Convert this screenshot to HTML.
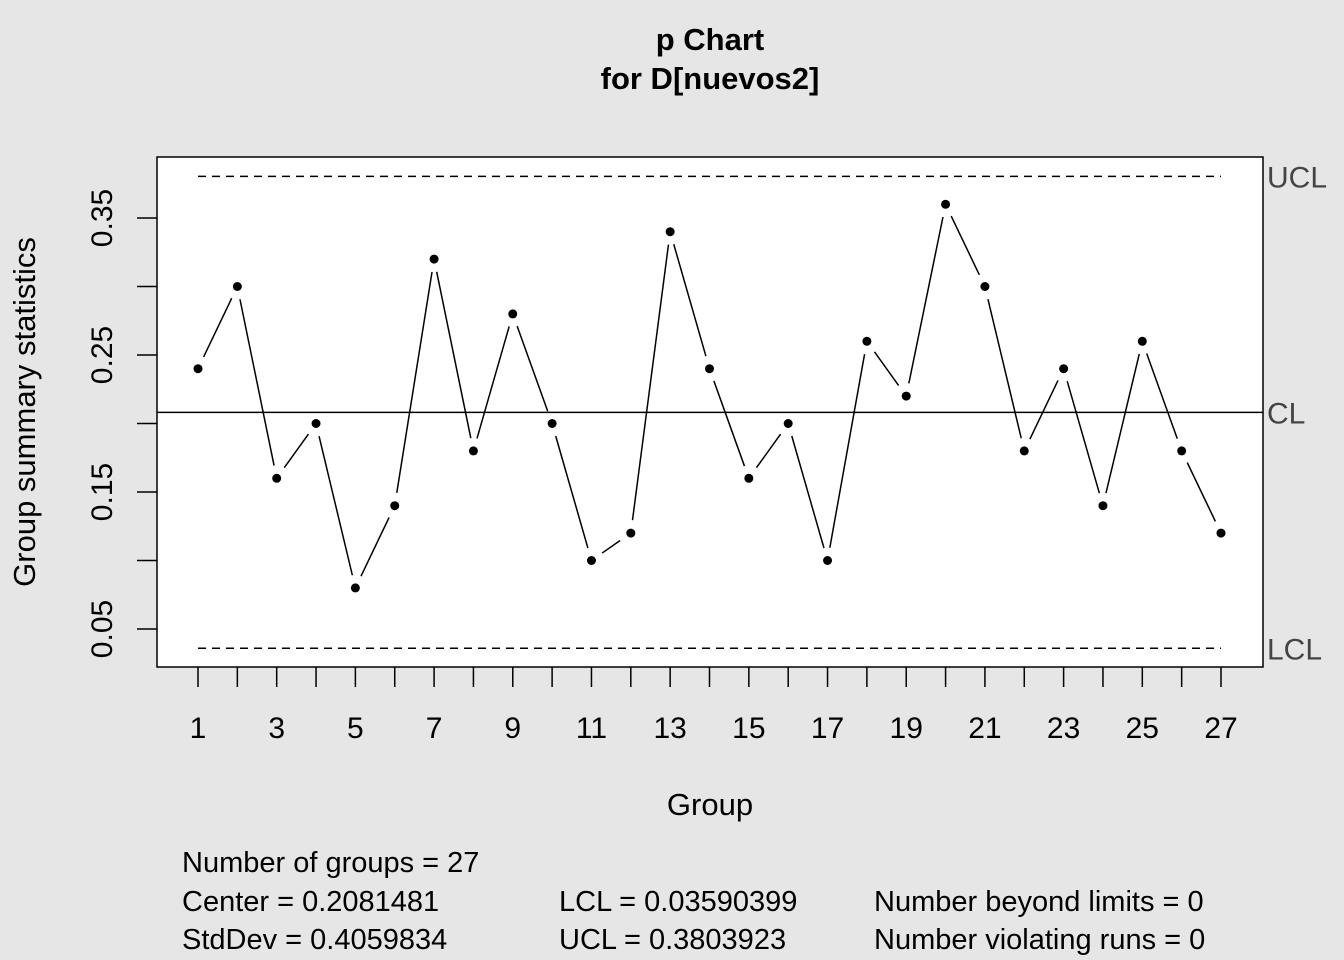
<!DOCTYPE html>
<html><head><meta charset="utf-8"><style>
body{margin:0;background:#e6e6e6;}
svg{display:block;font-family:"Liberation Sans",Arial,sans-serif;}
</style></head><body>
<svg id="chart" width="1344" height="960" viewBox="0 0 1344 960" xmlns="http://www.w3.org/2000/svg">
<rect x="0" y="0" width="1344" height="960" fill="#e6e6e6"/>
<rect x="157" y="157" width="1106" height="510" fill="#ffffff" stroke="#000" stroke-width="1.5"/>
<text x="710" y="50" font-size="31" font-weight="bold" text-anchor="middle">p Chart</text>
<text x="710" y="89" font-size="31" font-weight="bold" text-anchor="middle">for D[nuevos2]</text>
<text x="710" y="815" font-size="31" text-anchor="middle">Group</text>
<text transform="translate(35,412) rotate(-90)" font-size="31" text-anchor="middle">Group summary statistics</text>
<g id="marks"></g>
<g font-size="29">
<text x="182" y="872">Number of groups = 27</text>
<text x="182" y="911">Center = 0.2081481</text>
<text x="182" y="949">StdDev = 0.4059834</text>
<text x="559" y="911">LCL = 0.03590399</text>
<text x="559" y="949">UCL = 0.3803923</text>
<text x="874" y="911">Number beyond limits = 0</text>
<text x="874" y="949">Number violating runs = 0</text>
</g>
</svg>
<script>
const groups=[1,2,3,4,5,6,7,8,9,10,11,12,13,14,15,16,17,18,19,20,21,22,23,24,25,26,27];
const values=[0.24,0.30,0.16,0.20,0.08,0.14,0.32,0.18,0.28,0.20,0.10,0.12,0.34,0.24,0.16,0.20,0.10,0.26,0.22,0.36,0.30,0.18,0.24,0.14,0.26,0.18,0.12];
const yTicks=[0.05,0.15,0.25,0.35];
const yMinor=[0.10,0.20,0.30];
const center=0.2081481;
const ucl=0.3803923;
const lcl=0.03590399;
const NS="http://www.w3.org/2000/svg";
const g=document.getElementById('marks');
function xs(i){return 198+(i-1)*(1221-198)/26;}
function ys(v){return 629-(v-0.05)*1370;}
function mk(t,a){const e=document.createElementNS(NS,t);for(const k in a)e.setAttribute(k,a[k]);g.appendChild(e);return e;}
let l;
l=mk('line',{x1:198,x2:1221,y1:ys(ucl),y2:ys(ucl),stroke:'#000','stroke-width':1.5,'stroke-dasharray':'8,6'});


l=mk('line',{x1:198,x2:1221,y1:ys(lcl),y2:ys(lcl),stroke:'#000','stroke-width':1.5,'stroke-dasharray':'8,6'});


l=mk('line',{x1:157,x2:1263,y1:ys(center),y2:ys(center),stroke:'#000','stroke-width':1.5});


[['UCL',ucl],['CL',center],['LCL',lcl]].forEach(([t,v])=>{
 const e=mk('text',{x:1267,y:ys(v)+11,'font-size':30,fill:'#444'});e.textContent=t;
 
 
});
for(let i=0;i<values.length-1;i++){
 const x1=xs(groups[i]),y1=ys(values[i]),x2=xs(groups[i+1]),y2=ys(values[i+1]);
 const dx=x2-x1,dy=y2-y1,d=Math.hypot(dx,dy),s=13;
 if(d>2*s){
  const e=mk('line',{x1:x1+dx/d*s,y1:y1+dy/d*s,x2:x2-dx/d*s,y2:y2-dy/d*s,stroke:'#000','stroke-width':1.5});
  
  
 }
}
values.forEach((v,i)=>{
 const e=mk('circle',{cx:xs(groups[i]),cy:ys(v),r:4.5,fill:'#000'});
 
 
});
groups.forEach(gp=>{
 const e=mk('line',{x1:xs(gp),x2:xs(gp),y1:667,y2:687,stroke:'#000','stroke-width':1.5});
 
 
 if(gp%2===1){
  const t=mk('text',{x:xs(gp),y:738,'font-size':30,'text-anchor':'middle'});t.textContent=gp;
  
  
 }
});
yTicks.concat(yMinor).forEach(v=>{
 const e=mk('line',{x1:137,x2:157,y1:ys(v),y2:ys(v),stroke:'#000','stroke-width':1.5});
 
 
});
yTicks.forEach(v=>{
 const t=mk('text',{transform:'translate(112,'+ys(v)+') rotate(-90)','font-size':30,'text-anchor':'middle'});
 t.textContent=v.toFixed(2);
 
 
});
</script>
</body></html>
